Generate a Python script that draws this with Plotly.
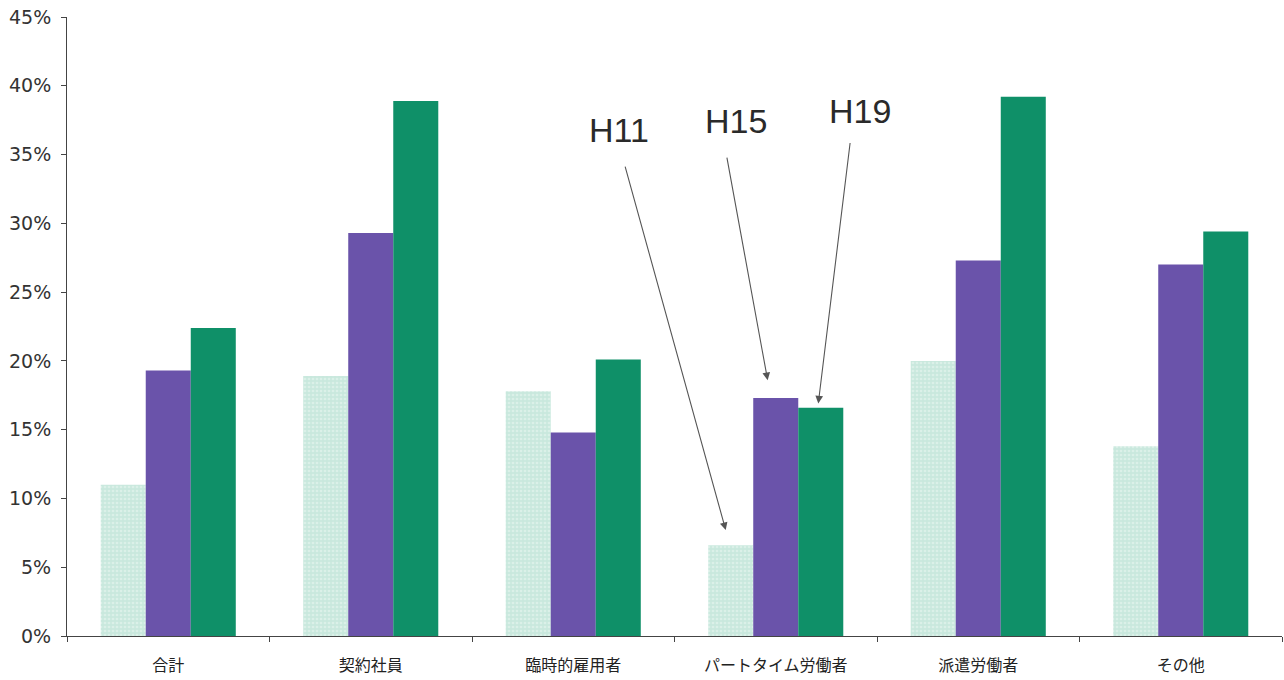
import plotly.graph_objects as go

categories = ["合計", "契約社員", "臨時的雇用者", "パートタイム労働者", "派遣労働者", "その他"]
series_names = ["H11", "H15", "H19"]
h11 = [11.0, 18.9, 17.8, 6.6, 20.0, 13.8]
h15 = [19.3, 29.3, 14.8, 17.3, 27.3, 27.0]
h19 = [22.4, 38.9, 20.1, 16.6, 39.2, 29.4]
y_ticks = [0, 5, 10, 15, 20, 25, 30, 35, 40, 45]
y_tick_labels = [f"{v}%" for v in y_ticks]

colors = ["#c9e8dd", "#6a53aa", "#0f9068"]

fig = go.Figure()
for name, vals, col in zip(series_names, [h11, h15, h19], colors):
    marker = dict(color=col, line=dict(width=0))
    if name == "H11":
        marker["pattern"] = dict(shape=".", fgcolor="#eef8f4", size=4, solidity=0.35)
    fig.add_trace(go.Bar(name=name, x=categories, y=vals, marker=marker))

fig.update_layout(
    width=1284, height=680,
    margin=dict(l=67, r=2, t=17, b=44),
    paper_bgcolor="white", plot_bgcolor="white",
    barmode="group", bargap=0.333, bargroupgap=0,
    showlegend=False,
    font=dict(family="Liberation Sans, Arial, sans-serif", color="#333"),
)
fig.update_yaxes(
    range=[0, 45], tickvals=y_ticks, ticktext=y_tick_labels,
    showgrid=False, zeroline=False,
    showline=True, linecolor="#444", linewidth=1,
    ticks="outside", ticklen=5, tickcolor="#444", ticklabelstandoff=6,
    tickfont=dict(size=19, family="DejaVu Sans", color="#333"),
)
fig.update_xaxes(
    showgrid=False, showline=True, linecolor="#444", linewidth=1,
    ticks="outside", ticklen=5, tickcolor="#444", tickson="boundaries",
    ticklabelstandoff=15,
    tickfont=dict(size=16, family="Noto Sans CJK JP", color="#222"),
)

# labels
for txt, px, py in [("H11", 619, 130), ("H15", 736, 121), ("H19", 860, 111)]:
    fig.add_annotation(text=txt, xref="paper", yref="paper",
                       x=(px - 67) / (1284 - 69), y=1 - (py - 17) / (636 - 17),
                       showarrow=False, xanchor="center", yanchor="middle",
                       font=dict(size=34, family="Liberation Sans, Arial, sans-serif", color="#2a2a2a"))

# arrows (head in data coords, tail as pixel offset)
arrows = [
    (3 - 0.247, 7.7, -101, -365),
    (3 - 0.04, 18.6, -41, -224),
    (3 + 0.21, 16.9, 32, -262),
]
for hx, hy, ax, ay in arrows:
    fig.add_annotation(x=hx, y=hy, xref="x", yref="y", text="", showarrow=True,
                       ax=ax, ay=ay, arrowhead=2, arrowsize=1.4, arrowwidth=1.1,
                       arrowcolor="#555")

fig.write_html("out.html")
